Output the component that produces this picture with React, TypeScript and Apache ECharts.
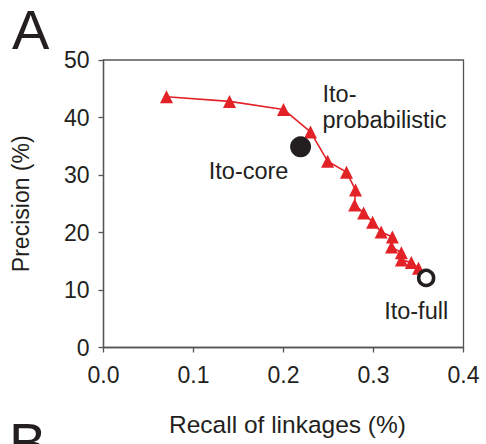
import React, { useEffect, useRef } from "react";
import * as echarts from "echarts";

const recall = [0.07, 0.14, 0.2, 0.23, 0.249, 0.27, 0.28, 0.279, 0.289, 0.299, 0.3085, 0.321, 0.32, 0.331, 0.331, 0.342, 0.35];
const precision = [43.6, 42.8, 41.4, 37.5, 32.4, 30.5, 27.4, 24.8, 23.4, 21.8, 20.1, 19.2, 17.5, 16.5, 15.2, 14.8, 13.8];
const itoCore: [number, number] = [0.219, 34.9];
const itoFull: [number, number] = [0.3585, 12.1];
const xTicks = [0, 0.1, 0.2, 0.3, 0.4];
const yTicks = [0, 10, 20, 30, 40, 50];

const FONT = "'Liberation Sans', Arial, sans-serif";
const TXT = "#231f20";
const AX = "#555";
const RED = "#e32228";

export default function App() {
  const ref = useRef<HTMLDivElement>(null);
  useEffect(() => {
    if (!ref.current) return;
    const chart = echarts.init(ref.current, null, { renderer: "svg" });
    const lineData = recall.map((x, i) => {
      const item: any = { value: [x, precision[i]] };
      if (i === 3) {
        item.label = {
          show: true,
          position: "inside",
          formatter: "Ito-\nprobabilistic",
          align: "left",
          verticalAlign: "middle",
          offset: [12, -25],
          fontSize: 23.5,
          lineHeight: 26,
          fontFamily: FONT,
          color: TXT,
        };
      }
      return item;
    });
    chart.setOption({
      animation: false,
      textStyle: { fontFamily: FONT },
      grid: {
        left: 103.5,
        right: 22.5,
        top: 60,
        bottom: 96.5,
        show: true,
        borderColor: AX,
        borderWidth: 1.3,
      },
      xAxis: {
        type: "value",
        min: xTicks[0],
        max: xTicks[xTicks.length - 1],
        interval: 0.1,
        name: "Recall of linkages (%)",
        nameLocation: "middle",
        nameGap: 64,
        nameTextStyle: { fontSize: 24.5, color: TXT, fontFamily: FONT, padding: [0, 0, 0, 8] },
        axisLine: { show: true, lineStyle: { color: AX, width: 1.3 } },
        axisTick: { show: true, length: 5, inside: false, lineStyle: { color: AX, width: 1.3 } },
        axisLabel: { fontSize: 23, color: TXT, margin: 16, fontFamily: FONT, formatter: (v: number) => v.toFixed(1) },
        splitLine: { show: false },
      },
      yAxis: {
        type: "value",
        min: yTicks[0],
        max: yTicks[yTicks.length - 1],
        interval: 10,
        name: "Precision (%)",
        nameLocation: "middle",
        nameGap: 71,
        nameTextStyle: { fontSize: 23, color: TXT, fontFamily: FONT },
        axisLine: { show: true, lineStyle: { color: AX, width: 1.3 } },
        axisTick: { show: true, length: 5, inside: false, lineStyle: { color: AX, width: 1.3 } },
        axisLabel: { fontSize: 23, color: TXT, margin: 14, fontFamily: FONT },
        splitLine: { show: false },
      },
      series: [
        {
          type: "line",
          data: lineData,
          symbol: "triangle",
          symbolSize: 13,
          lineStyle: { color: RED, width: 1.6 },
          itemStyle: { color: RED, opacity: 1 },
          z: 3,
        },
        {
          type: "scatter",
          itemStyle: { opacity: 1 },
          data: [
            {
              value: itoCore,
              symbolSize: 21,
              itemStyle: { color: TXT, opacity: 1 },
              label: {
                show: true,
                position: "inside",
                formatter: "Ito-core",
                offset: [-52, 24],
                fontSize: 23.5,
                color: TXT,
                fontFamily: FONT,
              },
            },
            {
              value: itoFull,
              symbolSize: 15,
              itemStyle: { color: "#fff", borderColor: TXT, borderWidth: 3.5, opacity: 1 },
              label: {
                show: true,
                position: "inside",
                formatter: "Ito-full",
                offset: [-10, 33],
                fontSize: 23.5,
                color: TXT,
                fontFamily: FONT,
              },
            },
          ],
          z: 4,
        },
      ],
      graphic: [
        { type: "text", left: 12, top: 1, style: { text: "A", fontSize: 56, fontFamily: FONT, fill: TXT } },
        { type: "text", left: 9, top: 414, style: { text: "B", fontSize: 56, fontFamily: FONT, fill: TXT } },
      ],
    });
    return () => chart.dispose();
  }, []);
  return <div ref={ref} style={{ width: 486, height: 444, position: "absolute", left: 0, top: 0 }} />;
}
